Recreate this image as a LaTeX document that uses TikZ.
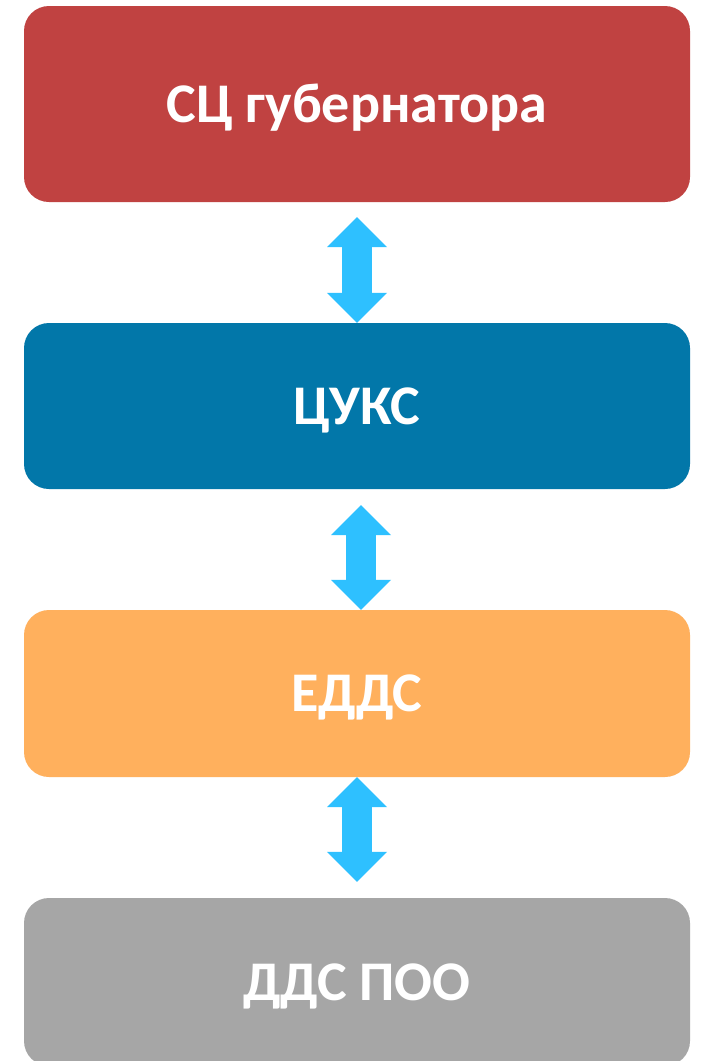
\documentclass[tikz,border=0pt]{standalone}
\usepackage{fontspec}
\setmainfont{Carlito}
\usetikzlibrary{arrows.meta,calc}
\definecolor{cred}{HTML}{C04241}
\definecolor{cblue}{HTML}{0277A9}
\definecolor{corange}{HTML}{FFB05D}
\definecolor{cgray}{HTML}{A6A6A6}
\definecolor{ccyan}{HTML}{2EC0FF}
\tikzset{
  levelbox/.style={rectangle, rounded corners=25pt, inner sep=0pt, minimum width=666pt,
    text=white, text height=36pt, text depth=0pt, font=\fontsize{56}{60}\selectfont\bfseries},
  dblarrow/.style={draw=ccyan, line width=30pt,
    {Triangle[length=30pt,width=60pt,line width=0pt]}-{Triangle[length=30pt,width=60pt,line width=0pt]}}
}
\begin{document}
\begin{tikzpicture}[x=1pt,y=-1pt]
\useasboundingbox[clip] (0,0) rectangle (701,1061);
\fill[white] (0,0) rectangle (701,1061);
\node[levelbox, fill=cred, minimum height=196pt] (b1) at (357,104) {СЦ губернатора};
\node[levelbox, fill=cblue, minimum height=166pt] (b2) at (357,406) {ЦУКС};
\node[levelbox, fill=corange, minimum height=167pt] (b3) at (357,693.5) {ЕДДС};
\node[levelbox, fill=cgray, minimum height=168pt] (b4) at (357,982) {ДДС ПОО};
\coordinate (a1s) at ($(b1.south)+(0,15)$);
\coordinate (a2s) at ($(b2.south)+(4,16)$);
\coordinate (a2e) at ($(b3.north)+(4,0)$);
\coordinate (a3e) at ($(b4.north)+(0,-16)$);
\draw[dblarrow] (a1s) -- (b2.north);
\draw[dblarrow] (a2s) -- (a2e);
\draw[dblarrow] (b3.south) -- (a3e);
\end{tikzpicture}
\end{document}
